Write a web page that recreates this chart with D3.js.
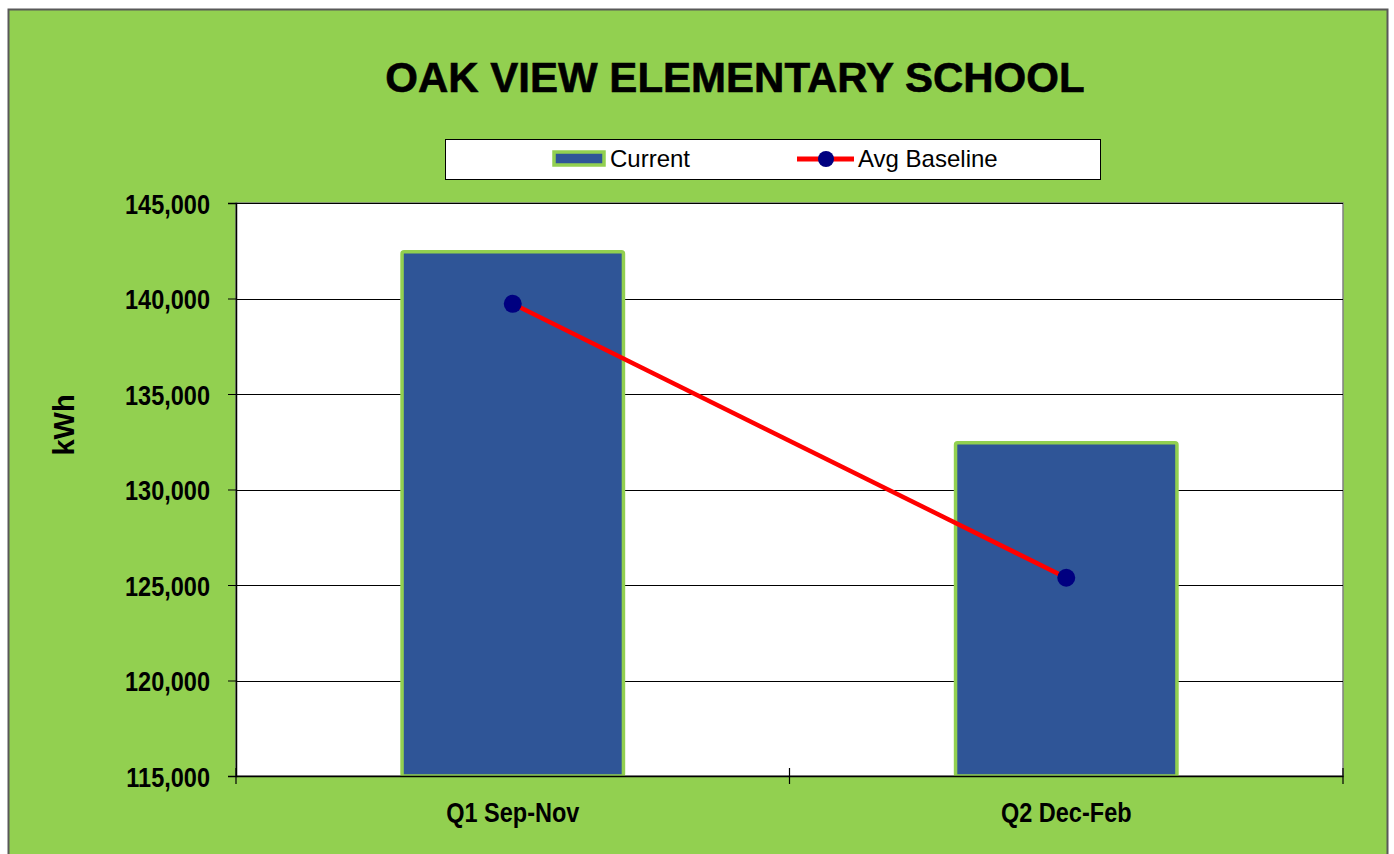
<!DOCTYPE html>
<html>
<head>
<meta charset="utf-8">
<script src="https://cdn.jsdelivr.net/npm/d3@7"></script>
<style>
  body { margin: 0; background: #fff; }
  svg { display: block; }
  .tick text { font-family: "Liberation Sans", Arial, sans-serif; font-weight: bold; }
</style>
</head>
<body>
<script>
// chart values
var categories = ["Q1 Sep-Nov", "Q2 Dec-Feb"];
var current = [142450, 132450];
var avg_baseline = [139720, 125380];
var y_ticks = [115000, 120000, 125000, 130000, 135000, 140000, 145000];

var W = 1394, H = 854;
var plot = {left: 236, top: 203, right: 1343, bottom: 776};
var squeeze = 0.84; // axis labels are condensed in the original

var svg = d3.select("body").append("svg")
    .attr("width", W)
    .attr("height", H);

// green chart area with frame
svg.append("rect")
    .attr("x", 8.5).attr("y", 9.5)
    .attr("width", 1379).attr("height", 860)
    .attr("fill", "#92D050")
    .attr("stroke", "#595959")
    .attr("stroke-width", 2);

// title
svg.append("text")
    .attr("x", 735).attr("y", 92)
    .attr("text-anchor", "middle")
    .style("font-family", "'Liberation Sans', Arial, sans-serif")
    .style("font-weight", "bold")
    .style("font-size", "42px")
    .style("stroke", "#000")
    .style("stroke-width", 0.6)
    .text("OAK VIEW ELEMENTARY SCHOOL");

var x = d3.scaleBand()
    .domain(categories)
    .range([plot.left, plot.right])
    .paddingInner(0.6)
    .paddingOuter(0.3);

var y = d3.scaleLinear()
    .domain([115000, 145000])
    .range([plot.bottom, plot.top]);

// plot background
svg.append("rect")
    .attr("x", plot.left).attr("y", plot.top)
    .attr("width", plot.right - plot.left)
    .attr("height", plot.bottom - plot.top)
    .attr("fill", "#fff")
    .attr("stroke", "#808080")
    .attr("stroke-width", 1.5);

// gridlines
svg.append("g")
    .selectAll("line")
    .data(y_ticks.slice(1))
    .enter()
    .append("line")
    .attr("x1", plot.left).attr("x2", plot.right)
    .attr("y1", d => Math.round(y(d)) + 0.5)
    .attr("y2", d => Math.round(y(d)) + 0.5)
    .attr("stroke", "#000")
    .attr("stroke-width", 1);

// bars
svg.append("g")
    .selectAll("rect")
    .data(current)
    .enter()
    .append("rect")
    .attr("x", (d, i) => x(categories[i]))
    .attr("y", d => y(d))
    .attr("width", x.bandwidth())
    .attr("height", d => y(115000) - y(d))
    .attr("rx", 2)
    .attr("fill", "#2F5597")
    .attr("stroke", "#92D050")
    .attr("stroke-width", 3.5);

// y axis
var yAxis = svg.append("g")
    .attr("transform", `translate(${plot.left},0)`)
    .call(d3.axisLeft(y).tickValues(y_ticks).tickSize(8)
        .tickFormat(d3.format(",")));
yAxis.select(".domain").attr("stroke", "#000").attr("stroke-width", 1.5);
yAxis.selectAll(".tick line").attr("stroke", "#000");
yAxis.selectAll(".tick text")
    .style("font-size", "28px")
    .attr("x", -26 / squeeze)
    .attr("dy", "0.36em")
    .attr("transform", `scale(${squeeze},1)`)
    .attr("fill", "#000");

// x axis
var xAxis = svg.append("g")
    .attr("transform", `translate(0,${plot.bottom})`)
    .call(d3.axisBottom(x).tickSize(0).tickPadding(26));
xAxis.select(".domain").attr("stroke", "#000").attr("stroke-width", 1.5);
xAxis.selectAll(".tick text")
    .style("font-size", "28px")
    .attr("transform", `scale(${squeeze},1)`)
    .attr("fill", "#000");

// category separator ticks
var sep = [plot.left, (plot.left + plot.right) / 2, plot.right];
svg.append("g")
    .selectAll("line")
    .data(sep)
    .enter()
    .append("line")
    .attr("x1", d => d).attr("x2", d => d)
    .attr("y1", plot.bottom - 8).attr("y2", plot.bottom + 8)
    .attr("stroke", "#000")
    .attr("stroke-width", 1.2);

// baseline line + dots
var cx = (d, i) => x(categories[i]) + x.bandwidth() / 2;
var line = d3.line()
    .x((d, i) => cx(d, i))
    .y(d => y(d));

svg.append("path")
    .datum(avg_baseline)
    .attr("d", line)
    .attr("fill", "none")
    .attr("stroke", "#FF0000")
    .attr("stroke-width", 4.5);

svg.append("g")
    .selectAll("circle")
    .data(avg_baseline)
    .enter()
    .append("circle")
    .attr("cx", cx)
    .attr("cy", d => y(d))
    .attr("r", 9)
    .attr("fill", "#000080");

// y axis title
svg.append("text")
    .attr("transform", "translate(74,425) rotate(-90)")
    .attr("text-anchor", "middle")
    .style("font-family", "'Liberation Sans', Arial, sans-serif")
    .style("font-weight", "bold")
    .style("font-size", "29px")
    .text("kWh");

// legend
var lg = svg.append("g");
lg.append("rect")
    .attr("x", 445.5).attr("y", 139.5)
    .attr("width", 655).attr("height", 40)
    .attr("fill", "#fff")
    .attr("stroke", "#000")
    .attr("stroke-width", 1);

lg.append("rect")
    .attr("x", 554).attr("y", 152)
    .attr("width", 50).attr("height", 13)
    .attr("fill", "#2F5597")
    .attr("stroke", "#92D050")
    .attr("stroke-width", 3.5);

lg.append("text")
    .attr("x", 610).attr("y", 167)
    .style("font-family", "'Liberation Sans', Arial, sans-serif")
    .style("font-size", "24px")
    .text("Current");

lg.append("line")
    .attr("x1", 797).attr("x2", 854)
    .attr("y1", 159).attr("y2", 159)
    .attr("stroke", "#FF0000")
    .attr("stroke-width", 5);

lg.append("circle")
    .attr("cx", 826).attr("cy", 159)
    .attr("r", 8)
    .attr("fill", "#000080");

lg.append("text")
    .attr("x", 858).attr("y", 167)
    .style("font-family", "'Liberation Sans', Arial, sans-serif")
    .style("font-size", "24px")
    .text("Avg Baseline");
</script>
</body>
</html>
